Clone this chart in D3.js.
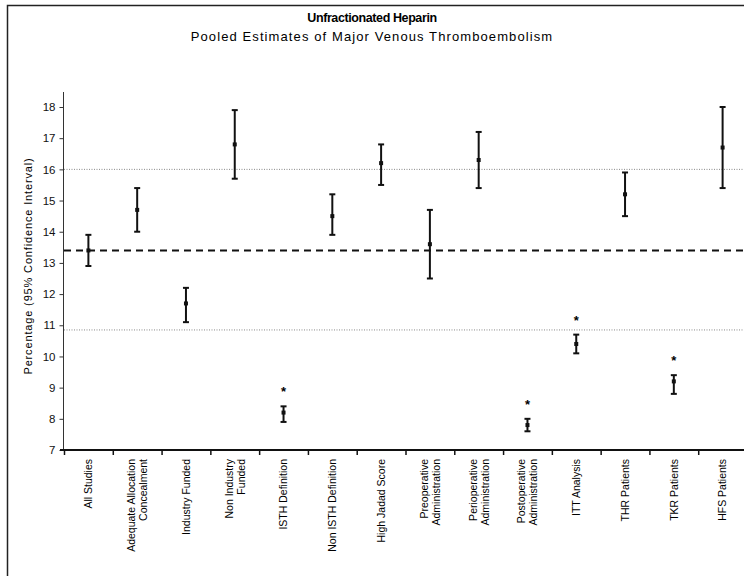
<!DOCTYPE html>
<html>
<head>
<meta charset="utf-8">
<script src="https://cdn.jsdelivr.net/npm/d3@7"></script>
<style>
  body { margin: 0; background: #fff; }
  svg { display: block; font-family: "Liberation Sans", Arial, sans-serif; }
</style>
</head>
<body>
<div id="chartContainer"></div>
<script>
// groups, point estimates and 95% CI
const groups = [
  ["All Studies"],
  ["Adequate Allocation", "Concealment"],
  ["Industry Funded"],
  ["Non Industry", "Funded"],
  ["ISTH Definition"],
  ["Non ISTH Definition"],
  ["High Jadad Score"],
  ["Preoperative", "Administration"],
  ["Perioperative", "Administration"],
  ["Postoperative", "Administration"],
  ["ITT Analysis"],
  ["THR Patients"],
  ["TKR Patients"],
  ["HFS Patients"]
];
const estimate = [13.4, 14.7, 11.7, 16.8, 8.2, 14.5, 16.2, 13.6, 16.3, 7.8, 10.4, 15.2, 9.2, 16.7];
const lower    = [12.9, 14.0, 11.1, 15.7, 7.9, 13.9, 15.5, 12.5, 15.4, 7.6, 10.1, 14.5, 8.8, 15.4];
const upper    = [13.9, 15.4, 12.2, 17.9, 8.4, 15.2, 16.8, 14.7, 17.2, 8.0, 10.7, 15.9, 9.4, 18.0];
const significant = [false, false, false, false, true, false, false, false, false, true, true, false, true, false];
const yTicks = [7, 8, 9, 10, 11, 12, 13, 14, 15, 16, 17, 18];
const overallLine = 13.4;
const boundLines = [16.0, 10.85];

const svgWidth = 744;
const svgHeight = 576;

const svg = d3.select("#chartContainer")
  .append("svg")
  .attr("width", svgWidth)
  .attr("height", svgHeight);

// frame
svg.append("rect")
  .attr("x", 7.5).attr("y", 5.5)
  .attr("width", 760).attr("height", 600)
  .attr("fill", "none")
  .attr("stroke", "#222")
  .attr("stroke-width", 1.5);

svg.append("text")
  .attr("x", 372).attr("y", 22)
  .attr("text-anchor", "middle")
  .style("font-family", "'Liberation Sans Narrow', 'Arial Narrow', sans-serif")
  .style("font-weight", "bold")
  .style("font-size", "12.5px")
  .style("letter-spacing", "-0.4px")
  .text("Unfractionated Heparin");

svg.append("text")
  .attr("x", 372).attr("y", 41)
  .attr("text-anchor", "middle")
  .style("font-size", "13px")
  .style("letter-spacing", "1.1px")
  .text("Pooled Estimates of Major Venous Thromboembolism");

const xScale = d3.scaleBand()
  .domain(d3.range(groups.length))
  .range([64, 747]);

const yScale = d3.scaleLinear()
  .domain([7, 18])
  .range([450, 107]);

// reference lines
svg.selectAll(".bound")
  .data(boundLines)
  .enter()
  .append("line")
  .attr("class", "bound")
  .attr("x1", 64).attr("x2", svgWidth)
  .attr("y1", d => yScale(d)).attr("y2", d => yScale(d))
  .attr("stroke", "#888")
  .attr("stroke-width", 1)
  .attr("stroke-dasharray", "1,1.5");

svg.append("line")
  .attr("x1", 64).attr("x2", svgWidth)
  .attr("y1", yScale(overallLine)).attr("y2", yScale(overallLine))
  .attr("stroke", "#111")
  .attr("stroke-width", 2)
  .attr("stroke-dasharray", "7,5");

// y axis
const yAxis = d3.axisLeft(yScale).tickValues(yTicks).tickSize(4).tickFormat(d3.format("d"));
const gy = svg.append("g")
  .attr("transform", "translate(63.5,0)")
  .call(yAxis);
gy.select(".domain").remove();
gy.append("line")
  .attr("x1", 0).attr("x2", 0)
  .attr("y1", 92).attr("y2", 450)
  .attr("stroke", "#333");
gy.selectAll(".tick line").attr("stroke", "#333");
gy.selectAll("text")
  .attr("x", -8)
  .attr("fill", "#111")
  .style("font-size", "11.5px")
  .style("font-family", "'Liberation Sans', Arial, sans-serif");

svg.append("text")
  .attr("transform", "translate(32,266) rotate(-90)")
  .attr("text-anchor", "middle")
  .style("font-size", "11px")
  .style("letter-spacing", "0.85px")
  .text("Percentage (95% Confidence Interval)");

// x axis
const xAxis = d3.axisBottom(d3.scaleLinear().domain([0, groups.length]).range([64, 747]))
  .tickValues(d3.range(groups.length + 1))
  .tickSize(5)
  .tickFormat("");
const gx = svg.append("g")
  .attr("transform", "translate(0,450)")
  .call(xAxis);
gx.select(".domain").remove();
gx.append("line")
  .attr("x1", 60).attr("x2", svgWidth)
  .attr("y1", 0).attr("y2", 0)
  .attr("stroke", "#111")
  .attr("stroke-width", 2);
gx.selectAll(".tick line").attr("stroke", "#111").attr("stroke-width", 1.5);

// category labels, rotated
groups.forEach((lines, i) => {
  const cx = xScale(i) + xScale.bandwidth() / 2;
  const label = svg.append("text")
    .attr("transform", `translate(${cx},459) rotate(-90)`)
    .attr("text-anchor", "end")
    .style("font-size", "10.5px");
  lines.forEach((t, j) => {
    label.append("tspan")
      .attr("x", 0)
      .attr("dy", j === 0 ? (lines.length === 1 ? "0.35em" : "-0.2em") : "1.15em")
      .text(t);
  });
});

// error bars
const bars = svg.selectAll(".ci")
  .data(d3.range(groups.length))
  .enter()
  .append("g")
  .attr("class", "ci")
  .attr("transform", i => `translate(${xScale(i) + xScale.bandwidth() / 2},0)`);

bars.append("line")
  .attr("x1", 0).attr("x2", 0)
  .attr("y1", i => yScale(upper[i]))
  .attr("y2", i => yScale(lower[i]))
  .attr("stroke", "#111")
  .attr("stroke-width", 2);

bars.append("line")
  .attr("x1", -3).attr("x2", 3)
  .attr("y1", i => yScale(upper[i])).attr("y2", i => yScale(upper[i]))
  .attr("stroke", "#111").attr("stroke-width", 2);

bars.append("line")
  .attr("x1", -3).attr("x2", 3)
  .attr("y1", i => yScale(lower[i])).attr("y2", i => yScale(lower[i]))
  .attr("stroke", "#111").attr("stroke-width", 2);

bars.append("rect")
  .attr("x", -2).attr("y", i => yScale(estimate[i]) - 2)
  .attr("width", 4).attr("height", 4)
  .attr("fill", "#111");

bars.filter(i => significant[i])
  .append("text")
  .attr("x", 0)
  .attr("y", i => yScale(upper[i]) - 10)
  .attr("text-anchor", "middle")
  .style("font-size", "13px")
  .style("font-weight", "bold")
  .text("*");
</script>
</body>
</html>
